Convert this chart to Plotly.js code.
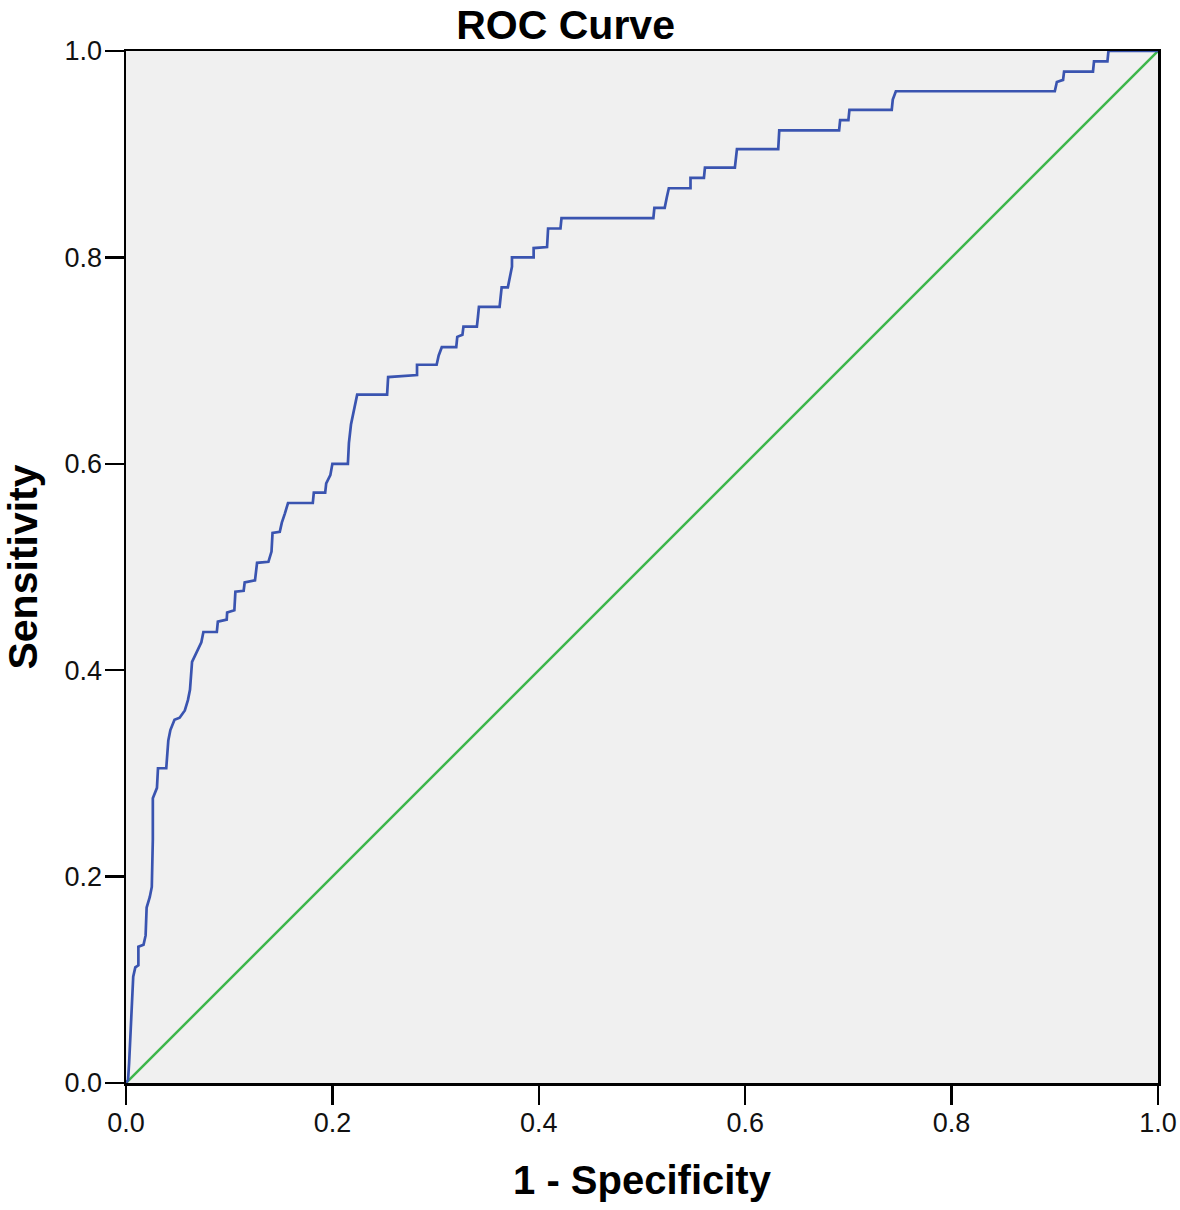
<!DOCTYPE html>
<html>
<head>
<meta charset="utf-8">
<script src="https://cdn.plot.ly/plotly-3.0.1.min.js"></script>
<style>html,body{margin:0;padding:0;background:#fff;}#chart{width:1180px;height:1210px;}</style>
</head>
<body>
<div id="chart"></div>
<script>
// ROC curve vertices (1 - Specificity, Sensitivity)
const rocX = [0,0.002,0.003,0.006,0.007,0.009,0.012,0.012,0.017,0.019,0.020,0.023,0.025,0.026,0.026,0.030,0.031,0.039,0.041,0.043,0.047,0.052,0.057,0.060,0.062,0.064,0.065,0.0685,0.073,0.075,0.088,0.089,0.0976,0.098,0.105,0.106,0.114,0.115,0.125,0.127,0.138,0.141,0.142,0.149,0.151,0.154,0.157,0.181,0.182,0.193,0.194,0.198,0.200,0.215,0.216,0.218,0.220,0.224,0.253,0.254,0.282,0.282,0.301,0.303,0.306,0.320,0.321,0.326,0.327,0.340,0.341,0.342,0.362,0.363,0.364,0.370,0.372,0.374,0.374,0.395,0.395,0.408,0.409,0.421,0.422,0.511,0.512,0.522,0.524,0.526,0.547,0.547,0.560,0.561,0.590,0.591,0.592,0.632,0.633,0.691,0.692,0.700,0.701,0.742,0.743,0.746,0.900,0.902,0.908,0.909,0.937,0.938,0.951,0.952,1.0];
const rocY = [0,0.003,0.019,0.076,0.103,0.112,0.114,0.132,0.134,0.143,0.170,0.180,0.190,0.236,0.276,0.286,0.305,0.305,0.332,0.342,0.352,0.354,0.361,0.371,0.381,0.408,0.410,0.4176,0.427,0.437,0.437,0.447,0.449,0.456,0.458,0.476,0.477,0.485,0.487,0.504,0.505,0.515,0.533,0.534,0.543,0.552,0.562,0.562,0.572,0.572,0.581,0.589,0.600,0.600,0.620,0.638,0.649,0.667,0.667,0.684,0.686,0.696,0.696,0.705,0.713,0.713,0.723,0.725,0.733,0.733,0.742,0.752,0.752,0.762,0.771,0.771,0.781,0.791,0.800,0.800,0.809,0.810,0.828,0.828,0.838,0.838,0.848,0.848,0.858,0.867,0.867,0.877,0.877,0.887,0.887,0.896,0.905,0.905,0.923,0.923,0.933,0.933,0.943,0.943,0.953,0.961,0.961,0.970,0.972,0.980,0.980,0.990,0.990,1.0,1.0];
// Reference diagonal
const refX = [0, 1];
const refY = [0, 1];
const tickVals = [0, 0.2, 0.4, 0.6, 0.8, 1.0];
const tickText = ["0.0", "0.2", "0.4", "0.6", "0.8", "1.0"];

const font = "Liberation Sans, Arial, sans-serif";
const data = [
  {x: refX, y: refY, type: "scatter", mode: "lines", line: {color: "#3cb64a", width: 2.5}, hoverinfo: "skip"},
  {x: rocX, y: rocY, type: "scatter", mode: "lines", line: {color: "#3a54b0", width: 2.7}, hoverinfo: "skip"}
];
const axisCommon = {
  range: [0, 1], tickvals: tickVals, ticktext: tickText,
  showgrid: false, zeroline: false, showline: true, linecolor: "#000", linewidth: 2.5,
  mirror: true, ticks: "outside", ticklen: 19, tickwidth: 2.5, tickcolor: "#000",
  tickfont: {family: font, size: 27, color: "#111"}, fixedrange: true
};
const layout = {
  width: 1180, height: 1210,
  margin: {l: 126, r: 22, t: 51, b: 127},
  paper_bgcolor: "#fff", plot_bgcolor: "#f0f0f0",
  showlegend: false,
  title: {text: "<b>ROC Curve</b>", font: {family: font, size: 41, color: "#000"}, xref: "paper", x: 0.426, xanchor: "center", yref: "container", y: 0.98, yanchor: "middle"},
  xaxis: Object.assign({}, axisCommon, {ticklabelstandoff: -5, title: {text: "<b>1 - Specificity</b>", font: {family: font, size: 40, color: "#000"}, standoff: 29}}),
  yaxis: Object.assign({}, axisCommon, {ticklabelstandoff: -3, title: {text: "<b>Sensitivity</b>", font: {family: font, size: 41, color: "#000"}, standoff: 17}})
};
Plotly.newPlot("chart", data, layout, {displayModeBar: false, staticPlot: true});
</script>
</body>
</html>
